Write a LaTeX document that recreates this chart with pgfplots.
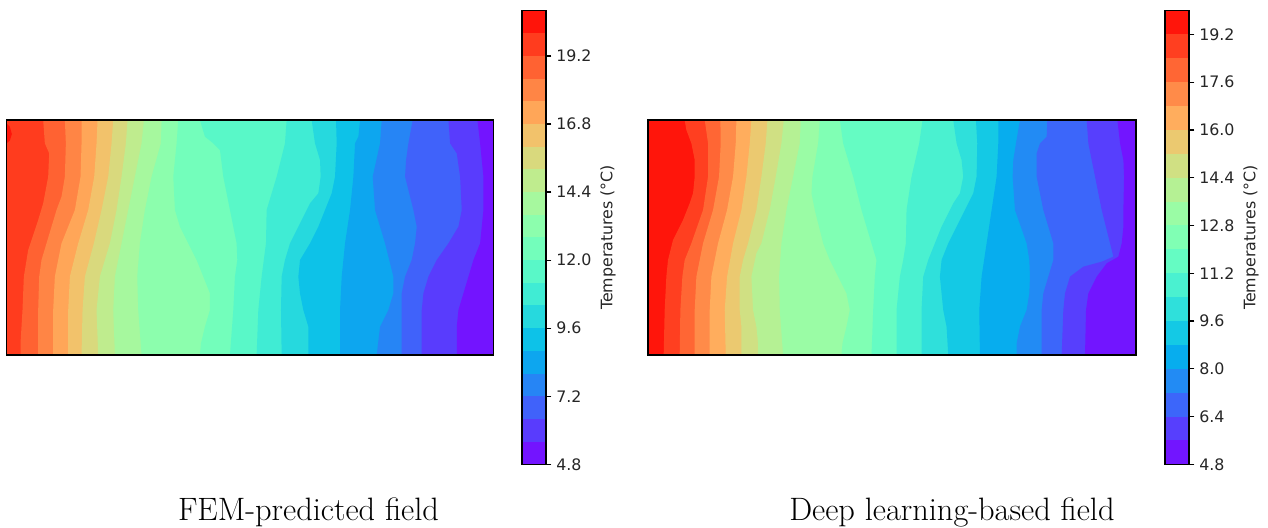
\documentclass[border=0pt]{standalone}
\usepackage{fontspec}
\usepackage{pgfplots}
\pgfplotsset{compat=1.18}
\newfontfamily\dejavu{DejaVu Sans}
% left (FEM) band colours, 4.8..20.8 step 0.8
\definecolor{L0}{RGB}{115,20,255}
\definecolor{L1}{RGB}{89,60,253}
\definecolor{L2}{RGB}{64,98,250}
\definecolor{L3}{RGB}{38,133,245}
\definecolor{L4}{RGB}{13,166,239}
\definecolor{L5}{RGB}{13,194,232}
\definecolor{L6}{RGB}{38,217,222}
\definecolor{L7}{RGB}{64,236,212}
\definecolor{L8}{RGB}{89,248,200}
\definecolor{L9}{RGB}{115,254,187}
\definecolor{L10}{RGB}{140,254,173}
\definecolor{L11}{RGB}{166,248,158}
\definecolor{L12}{RGB}{191,236,142}
\definecolor{L13}{RGB}{217,217,125}
\definecolor{L14}{RGB}{242,194,107}
\definecolor{L15}{RGB}{255,166,88}
\definecolor{L16}{RGB}{255,133,69}
\definecolor{L17}{RGB}{255,98,50}
\definecolor{L18}{RGB}{255,60,30}
\definecolor{L19}{RGB}{255,20,10}
% right (DL) band colours, 4.8..20.0 step 0.8
\definecolor{R0}{RGB}{114,21,255}
\definecolor{R1}{RGB}{87,63,253}
\definecolor{R2}{RGB}{60,102,250}
\definecolor{R3}{RGB}{34,139,244}
\definecolor{R4}{RGB}{7,173,238}
\definecolor{R5}{RGB}{20,201,229}
\definecolor{R6}{RGB}{47,224,219}
\definecolor{R7}{RGB}{74,241,208}
\definecolor{R8}{RGB}{101,252,195}
\definecolor{R9}{RGB}{128,255,180}
\definecolor{R10}{RGB}{154,252,165}
\definecolor{R11}{RGB}{181,241,148}
\definecolor{R12}{RGB}{208,224,131}
\definecolor{R13}{RGB}{235,201,112}
\definecolor{R14}{RGB}{255,173,93}
\definecolor{R15}{RGB}{255,139,73}
\definecolor{R16}{RGB}{255,102,52}
\definecolor{R17}{RGB}{255,63,32}
\definecolor{R18}{RGB}{255,21,11}
\pgfplotsset{
  field/.style={scale only axis, anchor=south west, width=350.6bp, height=169.2bp,
    ymin=30, ymax=735, y dir=reverse, xtick=\empty, ytick=\empty,
    axis on top, axis line style={line width=0.88bp, black}},
  cbar/.style={scale only axis, anchor=south west, width=17.28bp, height=326.7bp,
    xmin=0, xmax=1, xtick=\empty, ytick pos=right, yticklabel pos=right,
    tick align=outside, major tick length=3.86bp,
    every tick/.style={line width=0.88bp, black},
    axis on top, axis line style={line width=0.88bp, black},
    /pgf/number format/assume math mode=true,
    yticklabel style={font=\dejavu\fontsize{11.4bp}{13bp}\selectfont,
      /pgf/number format/fixed, /pgf/number format/fixed zerofill,
      /pgf/number format/precision=1, text=black!85},
    ylabel={Temperatures (°C)},
    every axis y label/.style={at={(rel axis cs:1,0.5)}, xshift=44.6bp, rotate=90,
      anchor=center, font=\dejavu\fontsize{11.4bp}{13bp}\selectfont, text=black!85}},
  band/.style={fill=#1, draw=none}
}
\begin{document}
\begin{tikzpicture}
\useasboundingbox (0,0) rectangle (912.96bp,379.44bp);
% ---------------- FEM field ----------------
\begin{axis}[field, at={(4.68bp,123.84bp)}, xmin=20, xmax=1480]
\addplot[band=L18] coordinates {(20,30) (20,735) (1480,735) (1480,30)} -- cycle;
\addplot[band=L19] coordinates {(20,40) (30,50) (36,72) (30,92) (20,100)} -- cycle;
\addplot[band=L17] coordinates {(130,30) (135,100) (148,130) (145,200) (130,280) (115,330) (95,390) (85,420) (72,500) (68,600) (62,700) (62,735) (1480,735) (1480,30)} -- cycle;
\addplot[band=L16] coordinates {(195,30) (198,100) (195,200) (185,260) (170,300) (140,400) (125,450) (118,500) (115,600) (115,735) (1480,735) (1480,30)} -- cycle;
\addplot[band=L15] coordinates {(245,30) (245,100) (242,200) (225,300) (185,400) (165,500) (160,600) (160,735) (1480,735) (1480,30)} -- cycle;
\addplot[band=L14] coordinates {(293,30) (290,100) (283,200) (265,300) (235,400) (210,500) (205,600) (205,735) (1480,735) (1480,30)} -- cycle;
\addplot[band=L13] coordinates {(340,30) (335,100) (325,200) (305,300) (282,400) (255,500) (248,600) (245,735) (1480,735) (1480,30)} -- cycle;
\addplot[band=L12] coordinates {(383,30) (378,100) (365,200) (350,300) (330,400) (315,450) (300,500) (290,600) (295,735) (1480,735) (1480,30)} -- cycle;
\addplot[band=L11] coordinates {(432,30) (425,100) (405,200) (385,300) (365,400) (355,450) (345,500) (340,600) (345,735) (1480,735) (1480,30)} -- cycle;
\addplot[band=L10] coordinates {(485,30) (483,100) (455,200) (435,300) (420,400) (412,500) (415,600) (425,735) (1480,735) (1480,30)} -- cycle;
\addplot[band=L9] coordinates {(535,30) (530,100) (520,200) (525,300) (540,350) (565,400) (590,450) (610,500) (630,550) (630,600) (615,650) (603,700) (600,735) (1480,735) (1480,30)} -- cycle;
\addplot[band=L8] coordinates {(600,30) (615,80) (640,100) (660,120) (670,200) (690,300) (710,400) (712,450) (705,500) (700,600) (690,735) (1480,735) (1480,30)} -- cycle;
\addplot[band=L7] coordinates {(860,30) (855,100) (830,200) (800,300) (798,400) (785,500) (775,600) (770,735) (1480,735) (1480,30)} -- cycle;
\addplot[band=L6] coordinates {(935,30) (945,100) (960,150) (962,200) (955,250) (930,280) (895,350) (870,400) (855,450) (845,500) (843,600) (845,735) (1480,735) (1480,30)} -- cycle;
\addplot[band=L5] coordinates {(1008,30) (1010,100) (1005,200) (995,250) (975,300) (955,350) (930,400) (900,450) (895,500) (900,550) (910,600) (925,650) (925,735) (1480,735) (1480,30)} -- cycle;
\addplot[band=L4] coordinates {(1080,30) (1075,80) (1065,100) (1060,200) (1050,300) (1035,400) (1025,500) (1020,600) (1020,735) (1480,735) (1480,30)} -- cycle;
\addplot[band=L3] coordinates {(1145,30) (1140,100) (1118,200) (1125,300) (1140,350) (1155,400) (1180,500) (1180,550) (1165,600) (1140,650) (1130,735) (1480,735) (1480,30)} -- cycle;
\addplot[band=L2] coordinates {(1238,30) (1225,100) (1218,150) (1215,200) (1240,300) (1250,350) (1245,400) (1235,450) (1215,500) (1205,550) (1205,600) (1205,735) (1480,735) (1480,30)} -- cycle;
\addplot[band=L1] coordinates {(1345,30) (1350,100) (1370,130) (1380,200) (1385,300) (1375,350) (1345,400) (1310,450) (1285,500) (1270,550) (1265,600) (1265,735) (1480,735) (1480,30)} -- cycle;
\addplot[band=L0] coordinates {(1432,30) (1440,100) (1450,200) (1450,300) (1440,400) (1420,450) (1405,500) (1390,550) (1375,600) (1370,650) (1370,735) (1480,735) (1480,30)} -- cycle;
\end{axis}
% FEM colorbar
\begin{axis}[cbar, at={(375.84bp,45.14bp)}, ymin=4.8, ymax=20.8,
  ytick={4.8,7.2,9.6,12.0,14.4,16.8,19.2}]
\addplot[band=L0] coordinates {(0,4.8) (1,4.8) (1,20.8) (0,20.8)} -- cycle;
\addplot[band=L1] coordinates {(0,5.6) (1,5.6) (1,20.8) (0,20.8)} -- cycle;
\addplot[band=L2] coordinates {(0,6.4) (1,6.4) (1,20.8) (0,20.8)} -- cycle;
\addplot[band=L3] coordinates {(0,7.2) (1,7.2) (1,20.8) (0,20.8)} -- cycle;
\addplot[band=L4] coordinates {(0,8.0) (1,8.0) (1,20.8) (0,20.8)} -- cycle;
\addplot[band=L5] coordinates {(0,8.8) (1,8.8) (1,20.8) (0,20.8)} -- cycle;
\addplot[band=L6] coordinates {(0,9.6) (1,9.6) (1,20.8) (0,20.8)} -- cycle;
\addplot[band=L7] coordinates {(0,10.4) (1,10.4) (1,20.8) (0,20.8)} -- cycle;
\addplot[band=L8] coordinates {(0,11.2) (1,11.2) (1,20.8) (0,20.8)} -- cycle;
\addplot[band=L9] coordinates {(0,12.0) (1,12.0) (1,20.8) (0,20.8)} -- cycle;
\addplot[band=L10] coordinates {(0,12.8) (1,12.8) (1,20.8) (0,20.8)} -- cycle;
\addplot[band=L11] coordinates {(0,13.6) (1,13.6) (1,20.8) (0,20.8)} -- cycle;
\addplot[band=L12] coordinates {(0,14.4) (1,14.4) (1,20.8) (0,20.8)} -- cycle;
\addplot[band=L13] coordinates {(0,15.2) (1,15.2) (1,20.8) (0,20.8)} -- cycle;
\addplot[band=L14] coordinates {(0,16.0) (1,16.0) (1,20.8) (0,20.8)} -- cycle;
\addplot[band=L15] coordinates {(0,16.8) (1,16.8) (1,20.8) (0,20.8)} -- cycle;
\addplot[band=L16] coordinates {(0,17.6) (1,17.6) (1,20.8) (0,20.8)} -- cycle;
\addplot[band=L17] coordinates {(0,18.4) (1,18.4) (1,20.8) (0,20.8)} -- cycle;
\addplot[band=L18] coordinates {(0,19.2) (1,19.2) (1,20.8) (0,20.8)} -- cycle;
\addplot[band=L19] coordinates {(0,20.0) (1,20.0) (1,20.8) (0,20.8)} -- cycle;
\end{axis}
% ---------------- Deep learning field ----------------
\begin{axis}[field, at={(466.56bp,123.84bp)}, width=351.4bp, xmin=25, xmax=1488]
\addplot[band=R18] coordinates {(25,30) (25,735) (1488,735) (1488,30)} -- cycle;
\addplot[band=R17] coordinates {(135,30) (140,60) (155,100) (165,150) (165,200) (160,250) (150,280) (130,330) (100,390) (85,450) (80,500) (75,600) (72,735) (1488,735) (1488,30)} -- cycle;
\addplot[band=R16] coordinates {(195,30) (205,100) (205,200) (190,300) (155,400) (135,450) (128,500) (122,600) (120,735) (1488,735) (1488,30)} -- cycle;
\addplot[band=R15] coordinates {(242,30) (243,100) (238,200) (220,300) (190,400) (170,500) (165,600) (165,735) (1488,735) (1488,30)} -- cycle;
\addplot[band=R14] coordinates {(290,30) (288,100) (280,200) (262,300) (235,400) (215,500) (210,600) (210,735) (1488,735) (1488,30)} -- cycle;
\addplot[band=R13] coordinates {(335,30) (330,100) (320,200) (305,300) (280,400) (262,500) (255,600) (258,735) (1488,735) (1488,30)} -- cycle;
\addplot[band=R12] coordinates {(383,30) (378,100) (365,200) (350,300) (325,400) (310,450) (300,500) (300,600) (305,650) (305,735) (1488,735) (1488,30)} -- cycle;
\addplot[band=R11] coordinates {(432,30) (425,100) (408,200) (390,300) (365,400) (350,430) (335,500) (340,600) (350,650) (355,700) (355,735) (1488,735) (1488,30)} -- cycle;
\addplot[band=R10] coordinates {(483,30) (480,100) (460,200) (440,300) (425,400) (418,500) (420,600) (430,735) (1488,735) (1488,30)} -- cycle;
\addplot[band=R9] coordinates {(540,30) (535,100) (518,200) (515,250) (525,300) (550,400) (570,450) (595,500) (620,550) (630,600) (620,650) (608,700) (605,735) (1488,735) (1488,30)} -- cycle;
\addplot[band=R8] coordinates {(600,30) (610,100) (625,150) (640,200) (665,300) (695,400) (710,450) (705,500) (700,600) (695,735) (1488,735) (1488,30)} -- cycle;
\addplot[band=R7] coordinates {(848,30) (838,100) (815,200) (800,300) (798,400) (790,450) (780,500) (770,600) (770,735) (1488,735) (1488,30)} -- cycle;
\addplot[band=R6] coordinates {(940,30) (950,100) (965,150) (970,200) (960,250) (940,280) (905,350) (885,400) (865,450) (850,500) (845,600) (845,735) (1488,735) (1488,30)} -- cycle;
\addplot[band=R5] coordinates {(1008,30) (1012,100) (1010,200) (1000,250) (975,300) (950,350) (925,400) (905,450) (900,500) (905,550) (910,600) (920,650) (925,735) (1488,735) (1488,30)} -- cycle;
\addplot[band=R4] coordinates {(1075,30) (1075,100) (1070,200) (1055,300) (1040,400) (1025,500) (1018,600) (1020,735) (1488,735) (1488,30)} -- cycle;
\addplot[band=R3] coordinates {(1140,30) (1128,100) (1120,150) (1118,200) (1125,300) (1160,400) (1168,450) (1170,500) (1168,550) (1160,600) (1140,650) (1130,700) (1130,735) (1488,735) (1488,30)} -- cycle;
\addplot[band=R2] coordinates {(1222,30) (1220,80) (1200,100) (1190,130) (1190,200) (1210,300) (1240,400) (1240,450) (1225,500) (1210,550) (1205,600) (1205,735) (1488,735) (1488,30)} -- cycle;
\addplot[band=R1] coordinates {(1340,30) (1345,100) (1365,200) (1385,300) (1410,400) (1420,440) (1385,455) (1330,470) (1290,500) (1275,550) (1270,600) (1265,735) (1488,735) (1488,30)} -- cycle;
\addplot[band=R0] coordinates {(1432,30) (1440,100) (1450,150) (1452,200) (1450,300) (1450,350) (1445,400) (1435,440) (1400,460) (1370,500) (1345,550) (1338,600) (1335,735) (1488,735) (1488,30)} -- cycle;
\end{axis}
% DL colorbar
\begin{axis}[cbar, at={(838.8bp,45.14bp)}, ymin=4.8, ymax=20.0,
  ytick={4.8,6.4,8.0,9.6,11.2,12.8,14.4,16.0,17.6,19.2}]
\addplot[band=R0] coordinates {(0,4.8) (1,4.8) (1,20.0) (0,20.0)} -- cycle;
\addplot[band=R1] coordinates {(0,5.6) (1,5.6) (1,20.0) (0,20.0)} -- cycle;
\addplot[band=R2] coordinates {(0,6.4) (1,6.4) (1,20.0) (0,20.0)} -- cycle;
\addplot[band=R3] coordinates {(0,7.2) (1,7.2) (1,20.0) (0,20.0)} -- cycle;
\addplot[band=R4] coordinates {(0,8.0) (1,8.0) (1,20.0) (0,20.0)} -- cycle;
\addplot[band=R5] coordinates {(0,8.8) (1,8.8) (1,20.0) (0,20.0)} -- cycle;
\addplot[band=R6] coordinates {(0,9.6) (1,9.6) (1,20.0) (0,20.0)} -- cycle;
\addplot[band=R7] coordinates {(0,10.4) (1,10.4) (1,20.0) (0,20.0)} -- cycle;
\addplot[band=R8] coordinates {(0,11.2) (1,11.2) (1,20.0) (0,20.0)} -- cycle;
\addplot[band=R9] coordinates {(0,12.0) (1,12.0) (1,20.0) (0,20.0)} -- cycle;
\addplot[band=R10] coordinates {(0,12.8) (1,12.8) (1,20.0) (0,20.0)} -- cycle;
\addplot[band=R11] coordinates {(0,13.6) (1,13.6) (1,20.0) (0,20.0)} -- cycle;
\addplot[band=R12] coordinates {(0,14.4) (1,14.4) (1,20.0) (0,20.0)} -- cycle;
\addplot[band=R13] coordinates {(0,15.2) (1,15.2) (1,20.0) (0,20.0)} -- cycle;
\addplot[band=R14] coordinates {(0,16.0) (1,16.0) (1,20.0) (0,20.0)} -- cycle;
\addplot[band=R15] coordinates {(0,16.8) (1,16.8) (1,20.0) (0,20.0)} -- cycle;
\addplot[band=R16] coordinates {(0,17.6) (1,17.6) (1,20.0) (0,20.0)} -- cycle;
\addplot[band=R17] coordinates {(0,18.4) (1,18.4) (1,20.0) (0,20.0)} -- cycle;
\addplot[band=R18] coordinates {(0,19.2) (1,19.2) (1,20.0) (0,20.0)} -- cycle;
\end{axis}
% titles
\node[anchor=base] at (222.1bp,5.04bp) {\fontsize{23.4}{28}\selectfont FEM-predicted field};
\node[anchor=base] at (685.4bp,5.04bp) {\fontsize{23.4}{28}\selectfont Deep learning-based field};
\end{tikzpicture}
\end{document}
